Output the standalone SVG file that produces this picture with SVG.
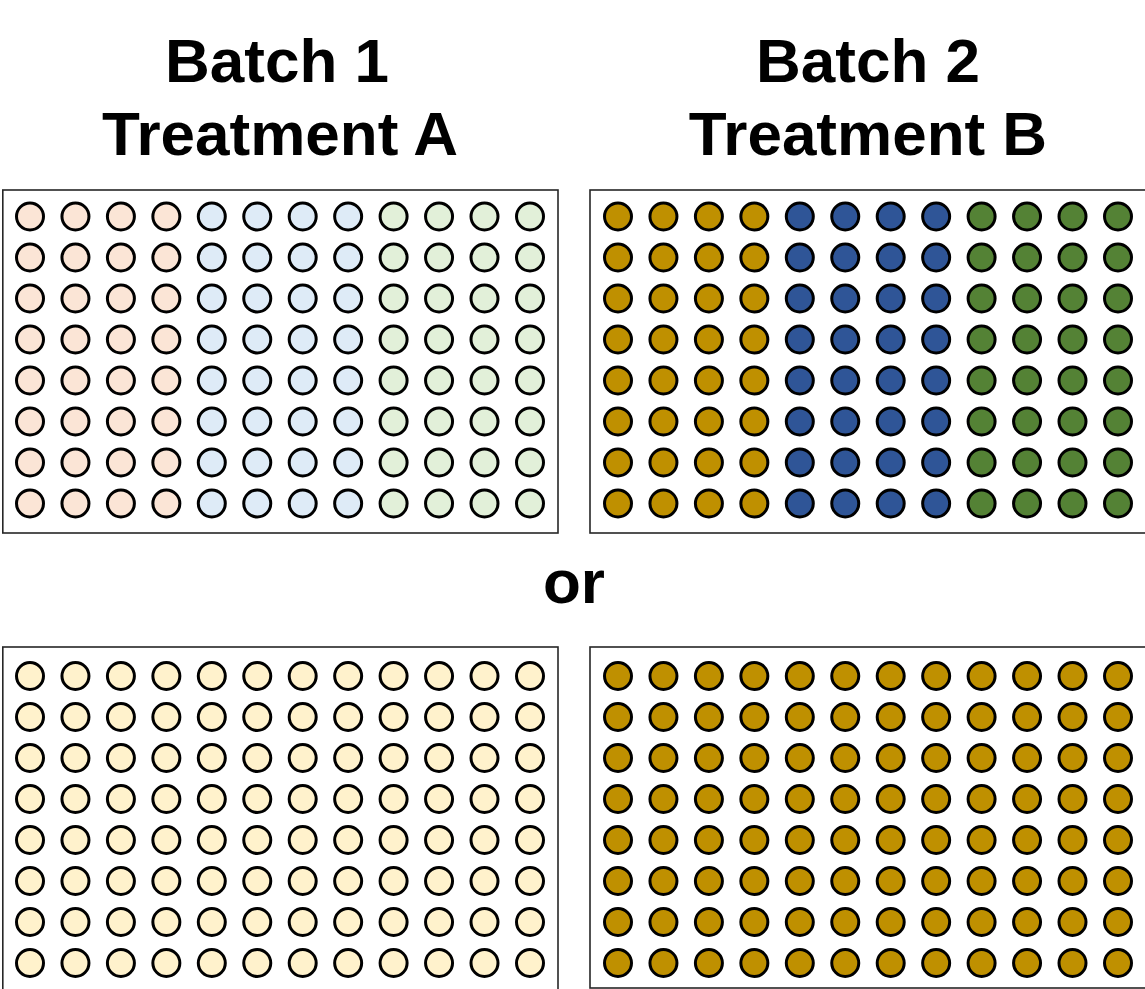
<svg xmlns="http://www.w3.org/2000/svg" xmlns:xlink="http://www.w3.org/1999/xlink" width="1145" height="989" viewBox="0 0 1145 989">
<style>
.plate{fill:#ffffff;stroke:#262626;stroke-width:1.6}
.w{stroke:#000000;stroke-width:3}
.pe{fill:#FBE5D6}.lb{fill:#DEEBF7}.lg{fill:#E2F0D9}.ye{fill:#FFF2CC}
.go{fill:#BF9000}.db{fill:#2F5597}.dg{fill:#548235}
.t{font-family:"Liberation Sans",Arial,sans-serif;font-weight:bold;font-size:62px;fill:#000000;text-anchor:middle}
</style>
<defs>
<g id="rowA" class="w">
<circle cx="30" cy="0" r="13.5" class="pe"/><circle cx="75.45" cy="0" r="13.5" class="pe"/><circle cx="120.9" cy="0" r="13.5" class="pe"/><circle cx="166.35" cy="0" r="13.5" class="pe"/>
<circle cx="211.8" cy="0" r="13.5" class="lb"/><circle cx="257.25" cy="0" r="13.5" class="lb"/><circle cx="302.7" cy="0" r="13.5" class="lb"/><circle cx="348.15" cy="0" r="13.5" class="lb"/>
<circle cx="393.6" cy="0" r="13.5" class="lg"/><circle cx="439.05" cy="0" r="13.5" class="lg"/><circle cx="484.5" cy="0" r="13.5" class="lg"/><circle cx="530" cy="0" r="13.5" class="lg"/>
</g>
<g id="rowB" class="w">
<circle cx="30" cy="0" r="13.5" class="go"/><circle cx="75.45" cy="0" r="13.5" class="go"/><circle cx="120.9" cy="0" r="13.5" class="go"/><circle cx="166.35" cy="0" r="13.5" class="go"/>
<circle cx="211.8" cy="0" r="13.5" class="db"/><circle cx="257.25" cy="0" r="13.5" class="db"/><circle cx="302.7" cy="0" r="13.5" class="db"/><circle cx="348.15" cy="0" r="13.5" class="db"/>
<circle cx="393.6" cy="0" r="13.5" class="dg"/><circle cx="439.05" cy="0" r="13.5" class="dg"/><circle cx="484.5" cy="0" r="13.5" class="dg"/><circle cx="530" cy="0" r="13.5" class="dg"/>
</g>
<g id="rowC" class="w ye">
<circle cx="30" cy="0" r="13.5"/><circle cx="75.45" cy="0" r="13.5"/><circle cx="120.9" cy="0" r="13.5"/><circle cx="166.35" cy="0" r="13.5"/>
<circle cx="211.8" cy="0" r="13.5"/><circle cx="257.25" cy="0" r="13.5"/><circle cx="302.7" cy="0" r="13.5"/><circle cx="348.15" cy="0" r="13.5"/>
<circle cx="393.6" cy="0" r="13.5"/><circle cx="439.05" cy="0" r="13.5"/><circle cx="484.5" cy="0" r="13.5"/><circle cx="530" cy="0" r="13.5"/>
</g>
<g id="rowD" class="w go">
<circle cx="30" cy="0" r="13.5"/><circle cx="75.45" cy="0" r="13.5"/><circle cx="120.9" cy="0" r="13.5"/><circle cx="166.35" cy="0" r="13.5"/>
<circle cx="211.8" cy="0" r="13.5"/><circle cx="257.25" cy="0" r="13.5"/><circle cx="302.7" cy="0" r="13.5"/><circle cx="348.15" cy="0" r="13.5"/>
<circle cx="393.6" cy="0" r="13.5"/><circle cx="439.05" cy="0" r="13.5"/><circle cx="484.5" cy="0" r="13.5"/><circle cx="530" cy="0" r="13.5"/>
</g>
</defs>
<rect width="1145" height="989" fill="#ffffff"/>
<g id="labels">
<text class="t" x="277" y="82">Batch 1</text>
<text class="t" x="280" y="155">Treatment A</text>
<text class="t" x="868" y="82">Batch 2</text>
<text class="t" x="868" y="155">Treatment B</text>
<text class="t" x="574" y="603">or</text>
</g>
<g id="plate-batch1-mixed">
<rect class="plate" x="2.8" y="190" width="555.2" height="343"/>
<use xlink:href="#rowA" y="216.5"/><use xlink:href="#rowA" y="257.5"/><use xlink:href="#rowA" y="298.5"/><use xlink:href="#rowA" y="339.5"/>
<use xlink:href="#rowA" y="380.5"/><use xlink:href="#rowA" y="421.5"/><use xlink:href="#rowA" y="462.5"/><use xlink:href="#rowA" y="503.5"/>
</g>
<g id="plate-batch2-mixed">
<rect class="plate" x="590" y="190" width="557" height="343"/>
<use xlink:href="#rowB" x="588" y="216.5"/><use xlink:href="#rowB" x="588" y="257.5"/><use xlink:href="#rowB" x="588" y="298.5"/><use xlink:href="#rowB" x="588" y="339.5"/>
<use xlink:href="#rowB" x="588" y="380.5"/><use xlink:href="#rowB" x="588" y="421.5"/><use xlink:href="#rowB" x="588" y="462.5"/><use xlink:href="#rowB" x="588" y="503.5"/>
</g>
<g id="plate-batch1-uniform">
<rect class="plate" x="2.8" y="647" width="555.2" height="345"/>
<use xlink:href="#rowC" y="676"/><use xlink:href="#rowC" y="717"/><use xlink:href="#rowC" y="758"/><use xlink:href="#rowC" y="799"/>
<use xlink:href="#rowC" y="840"/><use xlink:href="#rowC" y="881"/><use xlink:href="#rowC" y="922"/><use xlink:href="#rowC" y="963"/>
</g>
<g id="plate-batch2-uniform">
<rect class="plate" x="590" y="647" width="557" height="341"/>
<use xlink:href="#rowD" x="588" y="676"/><use xlink:href="#rowD" x="588" y="717"/><use xlink:href="#rowD" x="588" y="758"/><use xlink:href="#rowD" x="588" y="799"/>
<use xlink:href="#rowD" x="588" y="840"/><use xlink:href="#rowD" x="588" y="881"/><use xlink:href="#rowD" x="588" y="922"/><use xlink:href="#rowD" x="588" y="963"/>
</g>
<g id="connectors"/>
</svg>
